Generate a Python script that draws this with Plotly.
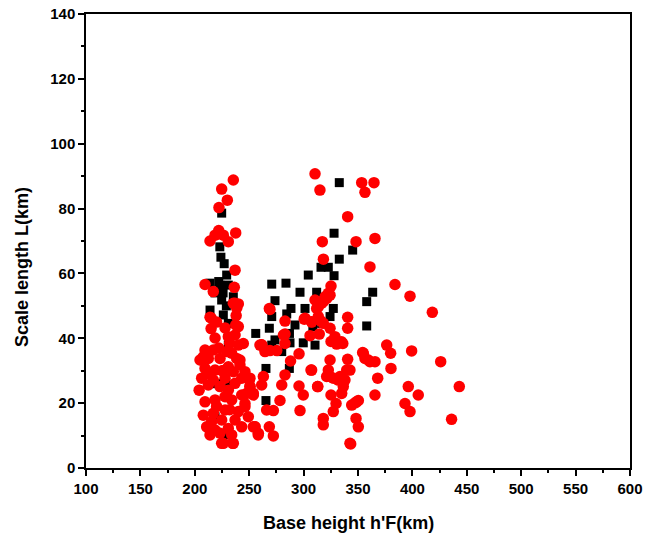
import plotly.graph_objects as go

# Black squares (series 1)
black_x = [224.7, 223, 224, 227, 229.3, 230.8, 214, 223, 226, 218.6, 224.7, 235.4, 214, 226.2, 230.8,
           230.8, 220, 232, 218.6, 227.8, 222, 229,
           332.8, 328, 345.1, 332.8, 316, 322.7, 304.3, 328, 270.7, 283.8, 363.5, 296.7, 312, 358,
           273.7, 288.4, 301.3, 327.3, 270.7, 284.5, 324.3, 292.1, 316.6, 268.5, 256, 358, 287, 308.5,
           273.7, 287.5, 299.7, 310.5, 270.7, 279.9, 265.4, 286.9, 265.4]
black_y = [78.6, 68.2, 65, 63, 59.5, 56.4, 57, 56.4, 54, 54, 51.8, 52.8, 48.7, 47.2, 44.6,
           37.9, 26, 25.6, 15.8, 10.2, 57.5, 50,
           88, 72.4, 67.2, 64.4, 61.9, 61.9, 59.5, 59.3, 56.7, 57, 54.2, 54.2, 54.2, 51.3,
           51.6, 49.2, 49.2, 49.2, 46.7, 47.5, 46.7, 44.1, 44.6, 43.1, 41.5, 43.8, 41.5, 43.5,
           39.5, 38.6, 38.6, 37.9, 37.9, 35.9, 30.7, 30.7, 20.8]

# Red circles (series 2)
red_x = [235.4, 224.7, 229.9, 222.2, 222, 218.6, 226.2, 237.6, 214, 230.8, 237, 209.4, 217, 236.3,
         235.4, 240, 214, 237.6, 237, 227.8, 230.8, 237, 240, 218.6, 217, 209.4, 229.3, 233.9,
         206.3, 212.4, 223.2, 238.5, 241.5, 246.1, 250.7, 243.1, 209.4, 218.6, 230.8, 235.4,
         206.3, 217, 227.8, 209.4, 212.4, 223.2, 237, 243.1, 246.1, 207.8, 217, 227.8, 240,
         210.9, 218.6, 230.8, 243.1, 214, 223.2, 233.9, 226.2, 235.4, 253.8, 227.8, 218.6,
         233.9, 215.4, 237, 224.7, 230.8, 238.5, 240, 244.6, 241.5, 246.1, 250.1, 247.6, 246.1,
         249.2, 207.8, 204.8, 250.7, 253.8, 255.3, 258.4, 224.7, 234.8, 214.9, 222, 232, 226,
         220, 204, 215, 238, 212, 225, 232, 220,
         310.5, 315, 353.4, 364.7, 356.4, 340.5, 317.2, 348.2, 365.6, 318.2, 361, 325.2, 324.3,
         321.2, 318.1, 313.5, 312, 268.5, 282.9, 300.6, 307.4, 316, 324.3, 340.5, 340.5, 282.9,
         305.9, 314.4, 325.2, 330.4, 336, 261.5, 264.5, 269.1, 275.3, 282.9, 295.8, 354.9, 359.5,
         365.6, 340.5, 324.3, 307.4, 322.7, 324.3, 333.5, 338, 342.6, 336.5, 335, 368.1, 365.6,
         263, 261.5, 253.8, 250.7, 282.9, 279.9, 295.8, 299.7, 313, 325.2, 329.8, 327.3, 348.8,
         344.2, 278.3, 296.7, 266, 272.2, 318.1, 318.1, 348.2, 350.3, 255.3, 258.3, 268.5, 272.2,
         342.6, 384, 397.8, 418.3, 376.4, 380, 399.3, 426, 354.3, 361, 380.3, 343.3, 396.2, 405.4,
         443.1, 393.2, 397.8, 347.3, 350.3, 436, 269.1, 301.3, 259.9, 310.5, 316.6, 313.5, 307.4,
         318.1, 328.8, 334.9, 321.2, 327.3, 331.9, 339.6, 306.8, 312.9, 319.7, 322.7, 313.5,
         261.5, 281.5, 288, 356.4]
red_y = [88.8, 86, 82.6, 80.3, 73.2, 71.8, 71.8, 72.5, 70, 69.8, 61, 56.6, 54.4, 55.7,
         50.8, 50.6, 46.5, 44.1, 50.8, 43.2, 40.5, 41, 37.9, 40.1, 36.4, 36.4, 35.9, 35.4,
         33.3, 33.8, 33.8, 33.8, 31.8, 29.7, 27.7, 27.7, 30.7, 30.2, 31.2, 29.7,
         27.7, 27.1, 27.7, 20.4, 25.6, 25.1, 26.1, 22.5, 19.9, 16.3, 16.9, 17.9, 17.4,
         12.7, 11.7, 12.2, 12.7, 10.2, 10.7, 10.2, 7.6, 7.6, 12.7, 22, 21,
         21, 14.3, 14.8, 14.8, 24, 49.3, 43.6, 38.4, 33.3, 28.2, 27.1, 23, 18.9,
         15.8, 34.3, 33.3, 25.1, 23, 12.7, 10.7, 7.6, 7.6, 46.3, 37, 38.5, 30,
         45, 24, 43, 47, 29, 30, 18, 19,
         90.7, 85.7, 88, 88, 85, 77.5, 69.8, 69.8, 70.8, 64.4, 62, 56.1, 53.3,
         52.3, 51.3, 50.8, 49.2, 49.2, 45.3, 45.9, 45, 45.3, 43.1, 46.5, 43.1, 41.3,
         40.8, 41.3, 39, 38.2, 38.4, 38, 35.9, 36.2, 36.2, 38.4, 35.2, 35.4, 33.3,
         32.8, 33.5, 33.3, 30.2, 30.2, 28.2, 28.2, 27.1, 30.2, 25.1, 23, 27.7, 22.5,
         28.2, 25.6, 22.5, 25.1, 28.7, 25.6, 25.3, 22.5, 25.1, 22.5, 19.9, 17.4, 20.4,
         19.4, 20.8, 17.7, 17.9, 17.7, 15.3, 13.3, 15.3, 12.7, 12.7, 10.2, 12.7, 9.9,
         7.6, 56.6, 53, 48, 37.9, 35.4, 36.1, 32.8, 35.6, 32.8, 30.7, 7.4, 25.1, 22.5,
         25.1, 19.9, 17.4, 20.1, 20.8, 15, 48.9, 46.2, 37.9, 51.8, 50.8, 46.7, 45.1,
         44.6, 40.5, 38.9, 28.2, 27.7, 27.1, 30.2, 30.2, 25.1, 52.8, 53.9, 49.7,
         37.9, 41, 33, 33.8]

x_ticks = [100, 150, 200, 250, 300, 350, 400, 450, 500, 550, 600]
y_ticks = [0, 20, 40, 60, 80, 100, 120, 140]

fig = go.Figure()
fig.add_trace(go.Scatter(x=black_x, y=black_y, mode="markers",
                         marker=dict(symbol="square", size=9, color="black"),
                         showlegend=False))
fig.add_trace(go.Scatter(x=red_x, y=red_y, mode="markers",
                         marker=dict(symbol="circle", size=11.5, color="red"),
                         showlegend=False))

font_family = "Liberation Sans, Arial, sans-serif"
axis_common = dict(showgrid=False, zeroline=False, showline=True, linecolor="black",
                   linewidth=1.5, mirror=True, ticks="outside", ticklen=6, tickwidth=1.5,
                   tickcolor="black", automargin=False,
                   tickfont=dict(family=font_family, size=15, color="black", weight="bold"))

fig.update_layout(
    width=650, height=539,
    margin=dict(l=86, r=20, t=14, b=71),
    paper_bgcolor="white", plot_bgcolor="white",
    xaxis=dict(range=[100, 600], tickvals=x_ticks,
               minor=dict(dtick=25, ticks="outside", ticklen=3, tickwidth=1.5, tickcolor="black"),
               **axis_common),
    yaxis=dict(range=[0, 140], tickvals=y_ticks,
               minor=dict(dtick=10, ticks="outside", ticklen=3, tickwidth=1.5, tickcolor="black"),
               **axis_common),
    annotations=[
        dict(text="<b>Base height h'F(km)</b>", xref="paper", yref="paper",
             x=(348 - 86) / 544, y=-(523 - 468) / 454, xanchor="center", yanchor="middle",
             showarrow=False, font=dict(family=font_family, size=18, color="black")),
        dict(text="<b>Scale length L(km)</b>", xref="paper", yref="paper",
             x=-(86 - 22) / 544, y=(468 - 267) / 454, xanchor="center", yanchor="middle",
             textangle=-90, showarrow=False,
             font=dict(family=font_family, size=18, color="black")),
    ],
)

fig.write_html("out.html", config={"displayModeBar": False},
               post_script="document.body.style.margin='0';document.body.style.overflow='hidden';")
